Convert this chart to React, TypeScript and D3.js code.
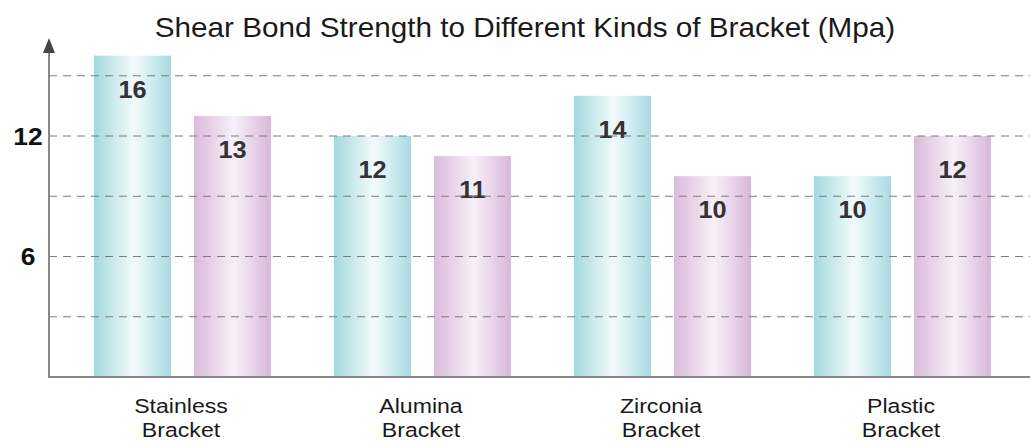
import { useRef, useEffect } from 'react';
import * as d3 from 'd3';

// Data
const categories = ['Stainless Bracket', 'Alumina Bracket', 'Zirconia Bracket', 'Plastic Bracket'];
const series = ['cyan', 'pink'];
const cyanValues = [16, 12, 14, 10];
const pinkValues = [13, 11, 10, 12];
const gridTicks = [3, 6, 9, 12, 15];
const labelTicks = [6, 12];

const FONT = 'Liberation Sans, Arial, sans-serif';
const STRETCH = 1.1; // the source text is a little wider than Arial

function App() {

    const svgRef = useRef<SVGSVGElement>(null);

    useEffect(() => {
        const width = 1030;
        const height = 443;
        const axisX = 49;

        if (!svgRef.current) return;
        const svg = d3.select(svgRef.current)
            .attr('width', width)
            .attr('height', height)
            .attr('viewBox', [0, 0, width, height].join(' '));

        svg.selectAll('*').remove();

        const at = (x: number, yy: number) => `translate(${x},${yy}) scale(${STRETCH},1)`;

        // Gradients
        const defs = svg.append('defs');
        const grads = [
            { id: 'gCyan', edge: '#a3d8df', mid: '#f2fbfc', edge2: '#a9dae2' },
            { id: 'gPink', edge: '#dbbadb', mid: '#f8f0f8', edge2: '#d9b7d9' },
        ];
        grads.forEach(g => {
            const lg = defs.append('linearGradient').attr('id', g.id)
                .attr('x1', '0%').attr('x2', '100%').attr('y1', '0%').attr('y2', '0%');
            lg.append('stop').attr('offset', '0%').attr('stop-color', g.edge);
            lg.append('stop').attr('offset', '52%').attr('stop-color', g.mid);
            lg.append('stop').attr('offset', '100%').attr('stop-color', g.edge2);
        });

        // Scales
        const y = d3.scaleLinear().domain([0, 12]).range([377, 136]);
        const x0 = d3.scaleBand<string>().domain(categories).range([62, 1022]);
        const x1 = d3.scaleBand<string>().domain(series).range([32, 209]).paddingInner(0.23);

        const rows = categories.map((c, i) => ({ c, vals: [cyanValues[i], pinkValues[i]] }));

        // Title
        svg.append('text')
            .attr('transform', at(525, 37))
            .attr('text-anchor', 'middle')
            .attr('font-family', FONT)
            .attr('font-size', 27)
            .attr('fill', '#1a1a1a')
            .text('Shear Bond Strength to Different Kinds of Bracket (Mpa)');

        // Bars
        const groups = svg.append('g').selectAll('g')
            .data(rows)
            .join('g')
            .attr('transform', d => `translate(${x0(d.c)},0)`);

        groups.selectAll('rect')
            .data(d => d.vals.map((v, j) => ({ key: series[j], v })))
            .join('rect')
            .attr('x', d => x1(d.key)!)
            .attr('width', x1.bandwidth())
            .attr('y', d => y(d.v))
            .attr('height', d => y(0) - y(d.v))
            .attr('fill', d => d.key === 'cyan' ? 'url(#gCyan)' : 'url(#gPink)');

        // Dashed grid lines over the bars
        svg.append('g').selectAll('line')
            .data(gridTicks)
            .join('line')
            .attr('x1', axisX)
            .attr('x2', width)
            .attr('y1', d => y(d))
            .attr('y2', d => y(d))
            .attr('stroke', '#7d7d7d')
            .attr('stroke-width', 1)
            .attr('stroke-dasharray', '8,6');

        // Value labels
        groups.selectAll('text')
            .data(d => d.vals.map((v, j) => ({ key: series[j], v })))
            .join('text')
            .attr('transform', d => at(x1(d.key)! + x1.bandwidth() / 2, y(d.v) + 42))
            .attr('text-anchor', 'middle')
            .attr('font-family', FONT)
            .attr('font-size', 23)
            .attr('font-weight', 'bold')
            .attr('fill', '#333')
            .text(d => d.v);

        // Axes
        svg.append('line')
            .attr('x1', axisX).attr('x2', axisX)
            .attr('y1', 50).attr('y2', y(0) + 1)
            .attr('stroke', '#888').attr('stroke-width', 2);
        svg.append('line')
            .attr('x1', axisX - 1).attr('x2', width)
            .attr('y1', y(0)).attr('y2', y(0))
            .attr('stroke', '#888').attr('stroke-width', 2);
        svg.append('path')
            .attr('d', `M${axisX - 6},53 L${axisX},38 L${axisX + 6},53 Z`)
            .attr('fill', '#444');

        // Y tick labels
        svg.append('g').selectAll('text')
            .data(labelTicks)
            .join('text')
            .attr('transform', d => at(28, y(d) + 8.5))
            .attr('text-anchor', 'middle')
            .attr('font-family', FONT)
            .attr('font-size', 24)
            .attr('font-weight', 'bold')
            .attr('fill', '#111')
            .text(d => d);

        // Category labels (two lines)
        const catText = svg.append('g').selectAll('text')
            .data(categories)
            .join('text')
            .attr('transform', d => at(x0(d)! + x0.bandwidth() / 2 - 1, 0))
            .attr('text-anchor', 'middle')
            .attr('font-family', FONT)
            .attr('font-size', 21)
            .attr('fill', '#1a1a1a');

        catText.selectAll('tspan')
            .data(d => d.split(' '))
            .join('tspan')
            .attr('x', 0)
            .attr('y', (d, i) => 413 + i * 24)
            .text(d => d);

    }, []);

    return <svg ref={svgRef} style={{ position: 'absolute', left: 0, top: 0, background: '#fff' }} />;
}

export default App;
